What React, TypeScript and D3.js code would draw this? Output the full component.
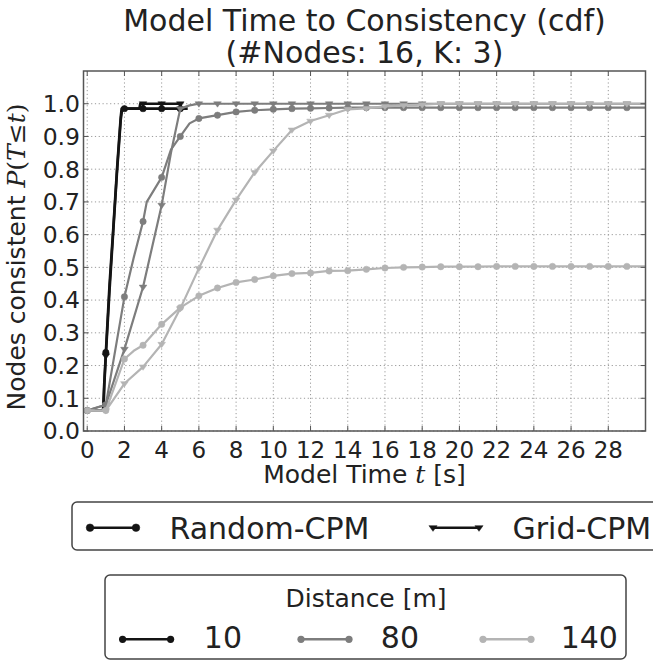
import React from 'react';
import * as d3 from 'd3';

const W = 653;
const H = 662;

const xTicks = [0, 2, 4, 6, 8, 10, 12, 14, 16, 18, 20, 22, 24, 26, 28];
const yTicks = [0, 0.1, 0.2, 0.3, 0.4, 0.5, 0.6, 0.7, 0.8, 0.9, 1.0];

const modes = ['Random-CPM', 'Grid-CPM'];
const distances = ['10', '80', '140'];
const distColors = ['#141414', '#7d7d7d', '#b4b4b4'];

// black: 10 m
const d10Random: [number, number][] = [
  [0, 0.0625], [0.85, 0.0625], [0.9, 0.13], [1.0, 0.24], [1.2, 0.45], [1.4, 0.62],
  [1.6, 0.8], [1.8, 0.96], [1.85, 0.985], [2, 0.985], [3, 0.985], [4, 0.985], [5, 0.985], [5.4, 0.985],
];
const d10Grid: [number, number][] = [
  [0, 0.0625], [0.88, 0.0625], [0.92, 0.14], [1.0, 0.23], [1.2, 0.43], [1.4, 0.61],
  [1.6, 0.79], [1.8, 0.95], [1.88, 0.985], [2.8, 0.985], [2.85, 1.0], [3, 1.0], [4, 1.0], [5, 1.0],
  [5.05, 0.985], [5.3, 0.985],
];
// dark gray: 80 m
const d80Random: [number, number][] = [
  [0, 0.0625], [1, 0.08], [2, 0.41], [2.5, 0.53], [3, 0.64], [3.2, 0.7], [4, 0.775], [4.5, 0.86],
  [5, 0.9], [5.5, 0.94], [6, 0.955], [7, 0.965], [8, 0.975], [9, 0.98], [10, 0.983], [11, 0.985],
  [12, 0.986], [13, 0.987], [14, 0.988], [15, 0.988], [16, 0.988], [17, 0.988], [18, 0.988], [19, 0.988],
  [20, 0.988], [21, 0.988], [22, 0.988], [23, 0.988], [24, 0.988], [25, 0.988], [26, 0.988], [27, 0.988],
  [28, 0.988], [29, 0.988], [30, 0.988],
];
const d80Grid: [number, number][] = [
  [0, 0.0625], [1, 0.08], [2, 0.25], [3, 0.44], [4, 0.69], [4.5, 0.85], [5, 0.985], [5.5, 0.995],
  [6, 1.0], [7, 1.0], [8, 1.0], [9, 1.0], [10, 1.0], [11, 1.0], [12, 1.0], [13, 1.0], [14, 1.0],
  [15, 1.0], [16, 1.0], [17, 1.0], [18, 1.0], [19, 1.0], [20, 1.0], [21, 1.0], [22, 1.0], [23, 1.0],
  [24, 1.0], [25, 1.0], [26, 1.0], [27, 1.0], [28, 1.0], [29, 1.0], [30, 1.0],
];
// light gray: 140 m
const d140Random: [number, number][] = [
  [0, 0.0625], [1, 0.0625], [2, 0.22], [2.5, 0.245], [3, 0.262], [4, 0.326], [5, 0.377], [6, 0.413],
  [7, 0.437], [8, 0.454], [9, 0.463], [10, 0.474], [11, 0.481], [12, 0.483], [13, 0.489], [14, 0.49],
  [15, 0.494], [16, 0.498], [17, 0.5], [18, 0.501], [19, 0.502], [20, 0.502], [21, 0.502], [22, 0.503],
  [23, 0.503], [24, 0.503], [25, 0.503], [26, 0.503], [27, 0.503], [28, 0.503], [29, 0.503], [30, 0.503],
];
const d140Grid: [number, number][] = [
  [0, 0.0625], [1, 0.0625], [2, 0.145], [3, 0.196], [4, 0.265], [5, 0.374], [6, 0.497], [7, 0.614],
  [8, 0.706], [9, 0.79], [10, 0.856], [11, 0.92], [12, 0.947], [13, 0.965], [14, 0.983], [15, 0.986],
  [16, 0.992], [17, 0.995], [18, 0.997], [19, 1.0], [20, 1.0], [21, 1.0], [22, 1.0], [23, 1.0],
  [24, 1.0], [25, 1.0], [26, 1.0], [27, 1.0], [28, 1.0], [29, 1.0], [30, 1.0],
];

const seriesList = [
  { data: d10Random, dist: 0, mode: 0 },
  { data: d10Grid, dist: 0, mode: 1 },
  { data: d80Random, dist: 1, mode: 0 },
  { data: d80Grid, dist: 1, mode: 1 },
  { data: d140Random, dist: 2, mode: 0 },
  { data: d140Grid, dist: 2, mode: 1 },
];

const FONT = 'DejaVu Sans';
const TEXT = '#222';

function Marker({ mode, cx, cy, color, r = 3.2 }: { mode: number; cx: number; cy: number; color: string; r?: number }) {
  if (mode === 0) return <circle cx={cx} cy={cy} r={r} fill={color} stroke={color} strokeWidth={0.5} />;
  const w = r * 1.2;
  return (
    <path
      d={`M${cx - w},${cy - w * 0.5} L${cx + w},${cy - w * 0.5} L${cx},${cy + w * 0.9} Z`}
      fill={color}
      stroke={color}
      strokeWidth={0.5}
    />
  );
}

export default function App() {
  const left = 83.5, right = 645.5, top = 71, bottom = 431;
  const x = d3.scaleLinear().domain([-0.2, 30]).range([left, right]);
  const y = d3.scaleLinear().domain([0, 1.1]).range([bottom, top]);
  const line = d3.line<[number, number]>().x((d) => x(d[0])).y((d) => y(d[1]));

  return (
    <svg width={W} height={H} style={{ position: 'absolute', left: 0, top: 0, background: '#fff' }} fontFamily={FONT}>
      <defs>
        <clipPath id="plotclip">
          <rect x={left} y={top} width={right - left} height={bottom - top} />
        </clipPath>
      </defs>
      {/* title */}
      <text x={364.5} y={31} textAnchor="middle" fontSize={30} fill={TEXT}>Model Time to Consistency (cdf)</text>
      <text x={364.5} y={63} textAnchor="middle" fontSize={30} fill={TEXT}>(#Nodes: 16, K: 3)</text>

      {/* grid */}
      {xTicks.map((t) => (
        <line key={'gx' + t} x1={x(t)} x2={x(t)} y1={top} y2={bottom} stroke="#9a9a9a" strokeWidth={1} strokeDasharray="1.2,2.6" />
      ))}
      {yTicks.map((t) => (
        <line key={'gy' + t} x1={left} x2={right} y1={y(t)} y2={y(t)} stroke="#9a9a9a" strokeWidth={1} strokeDasharray="1.2,2.6" />
      ))}

      {/* series */}
      <g clipPath="url(#plotclip)">
        {seriesList.map((s, i) => {
          const color = distColors[s.dist];
          return (
            <g key={'s' + i}>
              <path d={line(s.data) || ''} fill="none" stroke={color} strokeWidth={s.dist === 0 ? 2.6 : 2.2} strokeLinejoin="round" />
              {s.data
                .filter((d) => Number.isInteger(d[0]) && d[0] < 30)
                .map((d, j) => (
                  <Marker key={j} mode={s.mode} cx={x(d[0])} cy={y(d[1])} color={color} />
                ))}
            </g>
          );
        })}
      </g>

      {/* frame */}
      <rect x={left} y={top} width={right - left} height={bottom - top} fill="none" stroke="#555" strokeWidth={1.5} />
      {/* ticks */}
      {xTicks.map((t) => (
        <g key={'tx' + t}>
          <line x1={x(t)} x2={x(t)} y1={bottom} y2={bottom - 5} stroke="#555" />
          <line x1={x(t)} x2={x(t)} y1={top} y2={top + 5} stroke="#555" />
          <text x={x(t)} y={457.5} textAnchor="middle" fontSize={23} fill={TEXT}>{t}</text>
        </g>
      ))}
      {yTicks.map((t) => (
        <g key={'ty' + t}>
          <line x1={left} x2={left + 5} y1={y(t)} y2={y(t)} stroke="#555" />
          <line x1={right} x2={right - 5} y1={y(t)} y2={y(t)} stroke="#555" />
          <text x={80} y={y(t) + 8.4} textAnchor="end" fontSize={23.5} fill={TEXT}>{t.toFixed(1)}</text>
        </g>
      ))}

      {/* axis labels */}
      <text x={364.5} y={483} textAnchor="middle" fontSize={25} fill={TEXT}>
        Model Time <tspan fontFamily="DejaVu Serif" fontStyle="italic">t</tspan> [s]
      </text>
      <text transform="translate(25,257) rotate(-90)" textAnchor="middle" fontSize={25} fill={TEXT}>
        Nodes consistent <tspan fontFamily="DejaVu Serif" fontStyle="italic">P</tspan>
        <tspan fontFamily="DejaVu Serif">(</tspan>
        <tspan fontFamily="DejaVu Serif" fontStyle="italic">T</tspan>
        <tspan fontFamily="DejaVu Serif">≤</tspan>
        <tspan fontFamily="DejaVu Serif" fontStyle="italic">t</tspan>
        <tspan fontFamily="DejaVu Serif">)</tspan>
      </text>

      {/* legend 1: modes */}
      <rect x={72} y={502} width={620} height={48} rx={5} fill="#fff" stroke="#444" strokeWidth={1.5} />
      {modes.map((m, i) => {
        const hx = i === 0 ? 90 : 433;
        const tx = i === 0 ? 169.5 : 512.5;
        return (
          <g key={'lm' + i}>
            <line x1={hx} x2={hx + 46} y1={527.7} y2={527.7} stroke="#141414" strokeWidth={2.6} />
            <Marker mode={i} cx={hx} cy={527.7} color="#141414" r={i === 0 ? 3.8 : 3.4} />
            <Marker mode={i} cx={hx + 46} cy={527.7} color="#141414" r={i === 0 ? 3.8 : 3.4} />
            <text x={tx} y={538.5} fontSize={30} fill={TEXT}>{m}</text>
          </g>
        );
      })}

      {/* legend 2: distances */}
      <rect x={105} y={575} width={521} height={84} rx={5} fill="#fff" stroke="#444" strokeWidth={1.5} />
      <text x={366} y={606.5} textAnchor="middle" fontSize={25} fill={TEXT}>Distance [m]</text>
      {distances.map((dname, i) => {
        const hx = [122.6, 301, 483][i];
        const tx = [203.8, 380.8, 560.7][i];
        return (
          <g key={'ld' + i}>
            <line x1={hx} x2={hx + 48} y1={639.3} y2={639.3} stroke={distColors[i]} strokeWidth={2.6} />
            <circle cx={hx} cy={639.3} r={3.6} fill={distColors[i]} />
            <circle cx={hx + 48} cy={639.3} r={3.6} fill={distColors[i]} />
            <text x={tx} y={648.3} fontSize={30} fill={TEXT}>{dname}</text>
          </g>
        );
      })}
    </svg>
  );
}
